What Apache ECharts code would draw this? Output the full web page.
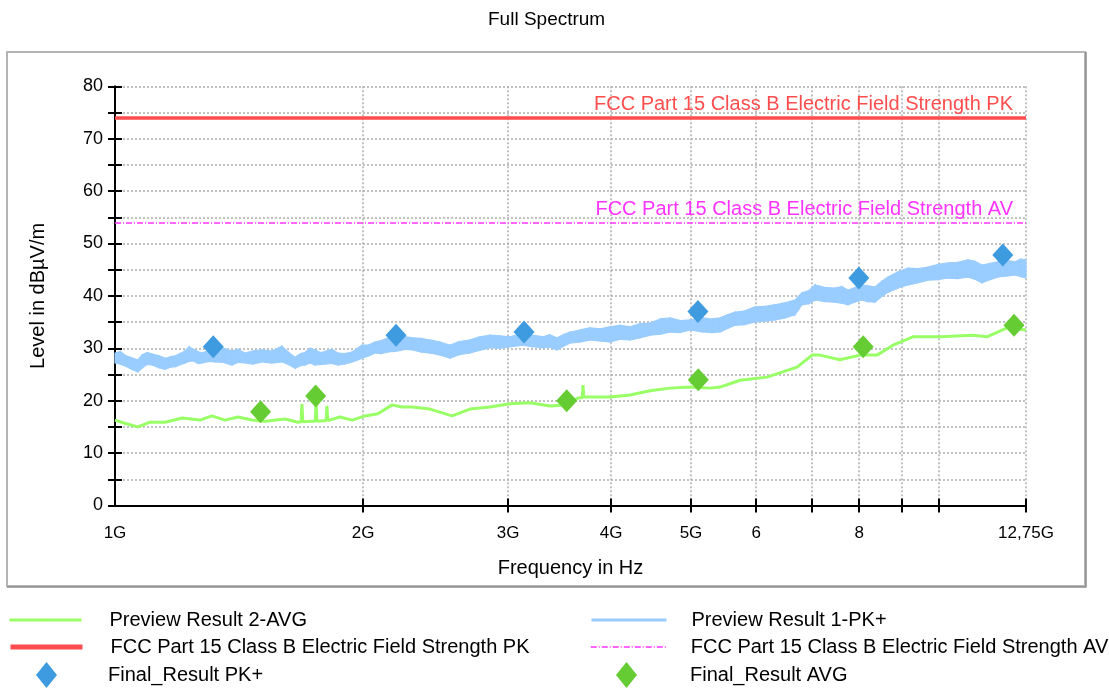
<!DOCTYPE html>
<html>
<head>
<meta charset="utf-8">
<script src="https://cdn.jsdelivr.net/npm/echarts@6/dist/echarts.min.js"></script>
<style>html,body{margin:0;padding:0;background:#fff;}#c{width:1109px;height:689px;}</style>
</head>
<body>
<div id="c"></div>
<script>
// ---- data (frequency in GHz, level in dBµV/m) ----
// Preview Result 1-PK+ is a dense noisy trace: stored as its upper and lower envelope
var pkFreq = [1.000,1.015,1.030,1.048,1.066,1.078,1.094,1.110,1.130,1.150,1.168,1.185,1.200,1.216,1.230,1.245,1.260,1.275,1.300,1.322,1.355,1.387,1.410,1.438,1.470,1.508,1.550,1.594,1.625,1.654,1.680,1.700,1.725,1.748,1.775,1.800,1.832,1.865,1.900,1.940,1.965,1.994,2.030,2.068,2.105,2.145,2.180,2.220,2.255,2.293,2.350,2.411,2.480,2.550,2.620,2.697,2.770,2.851,2.930,3.015,3.127,3.210,3.307,3.370,3.439,3.500,3.566,3.670,3.771,3.880,3.988,4.100,4.217,4.340,4.460,4.590,4.716,4.850,4.986,5.171,5.300,5.423,5.540,5.653,5.800,5.978,6.150,6.323,6.500,6.686,6.760,6.818,6.950,7.071,7.270,7.478,7.620,7.755,7.900,8.063,8.200,8.361,8.520,8.670,8.920,9.169,9.430,9.694,9.970,10.25,10.55,10.84,11.05,11.27,11.53,11.79,12.08,12.36,12.55,12.75];
var pkUpper = [29.1,29.4,28.6,28.2,27.8,28.7,29.2,28.9,28.6,28.1,28.4,28.6,29.0,29.5,30.3,29.8,29.4,29.1,29.6,29.7,30.0,29.5,29.8,29.1,29.5,29.7,29.5,30.4,29.2,28.3,29.0,29.2,30.0,29.7,29.2,29.4,29.8,29.1,29.0,29.3,29.9,30.6,30.6,31.2,31.5,32.0,31.6,31.8,32.2,32.0,31.9,31.6,31.2,30.6,31.3,31.6,32.2,32.5,32.4,32.2,32.9,32.5,32.2,32.6,32.0,32.6,33.1,33.5,33.9,33.7,34.1,34.4,34.1,34.7,34.8,35.6,35.8,35.3,35.4,35.8,35.6,35.8,36.4,36.9,37.1,37.9,38.0,38.3,38.7,39.2,40.0,40.6,41.0,42.1,41.6,41.5,41.8,41.1,41.6,42.1,41.9,41.7,42.8,43.6,44.6,45.3,45.2,45.5,46.0,46.3,46.4,46.9,46.6,45.9,46.2,46.5,46.8,46.5,47.0,46.9];
var pkLower = [27.2,27.0,26.6,26.0,25.5,26.2,26.9,26.8,26.3,26.0,26.4,26.5,26.9,27.2,27.5,27.6,27.1,27.2,27.5,27.4,27.3,26.8,27.3,27.2,27.0,27.4,27.2,27.4,26.9,26.2,26.7,26.8,27.2,26.8,26.9,27.0,27.1,26.8,27.0,27.4,27.7,28.1,28.5,29.1,29.0,29.3,29.4,29.6,29.8,29.7,29.3,29.1,28.7,28.1,28.8,29.1,29.6,30.1,30.0,30.3,30.6,30.3,30.1,30.2,29.7,30.4,31.0,31.2,31.6,31.4,31.2,31.7,31.6,32.0,32.5,32.7,33.1,33.0,33.5,33.1,33.0,33.1,33.8,34.4,34.5,35.0,35.2,35.4,35.8,36.4,37.5,38.3,38.5,39.2,38.9,38.8,38.6,38.3,38.8,39.2,38.9,38.8,39.9,40.7,41.5,42.1,42.5,43.0,43.1,43.4,43.3,43.6,43.2,42.5,43.1,43.6,43.8,44.0,43.7,43.4];

var avgFreq = [1.000,1.028,1.066,1.103,1.150,1.206,1.268,1.311,1.360,1.410,1.466,1.521,1.608,1.668,1.682,1.686,1.690,1.734,1.750,1.754,1.758,1.804,1.808,1.812,1.875,1.940,2.011,2.085,2.169,2.230,2.293,2.411,2.564,2.697,2.851,3.015,3.188,3.372,3.516,3.646,3.690,3.698,3.706,3.771,3.988,4.217,4.460,4.716,4.986,5.272,5.423,5.733,6.183,6.725,7.013,7.171,7.580,8.017,8.408,8.793,9.296,10.03,10.99,11.43,12.09,12.75];
var avgLevel = [16.3,15.7,15.0,15.9,15.9,16.7,16.3,17.1,16.3,16.9,16.3,16.1,16.5,15.9,16.0,19.4,16.0,16.1,16.1,20.0,16.1,16.2,19.0,16.2,16.9,16.3,17.1,17.5,19.2,18.8,18.8,18.4,17.1,18.4,18.8,19.4,19.6,19.0,19.2,20.5,20.6,23.0,20.7,20.7,20.7,21.1,21.9,22.4,22.6,22.4,22.6,23.9,24.5,26.4,28.7,28.7,27.8,28.7,28.7,30.6,32.2,32.2,32.5,32.2,33.9,33.5];

var finalPkFreq = [1.316,2.193,3.136,5.098,7.992,11.95];
var finalPkLevel = [30.3,32.5,33.1,37.0,43.4,47.8];
var finalAvgFreq = [1.502,1.752,3.533,5.103,8.09,12.33];
var finalAvgLevel = [17.9,20.9,20.0,24.0,30.3,34.4];

var limitPK = 74;
var limitAV = 54;

var xTickValues = [2,3,4,5,6,7,8,9,10,12.75];
var xLabelValues = [1,2,3,4,5,6,8,12.75];
var xLabelTexts = ['1G','2G','3G','4G','5G','6','8','12,75G'];

var NAME_AVG = 'Preview Result 2-AVG';
var NAME_PK = 'Preview Result 1-PK+';
var NAME_LPK = 'FCC Part 15 Class B Electric Field Strength PK';
var NAME_LAV = 'FCC Part 15 Class B Electric Field Strength AV';
var NAME_FPK = 'Final_Result PK+';
var NAME_FAVG = 'Final_Result AVG';

// ---- build ----
function pairs(xs, ys) { return xs.map(function (x, i) { return [x, ys[i]]; }); }
var FONT = 'Liberation Sans';
var cBlue = '#99CCFF', cGreen = '#99FF66', cRed = '#FF4D4D', cMag = '#FF33FF';
var cDiaBlue = '#3F9BDF', cDiaGreen = '#66CC33';
var gridStyle = { color: '#ADADAD', width: 1.5, type: [2, 2] };

function legendAt(name, left, top, w, h, pad) {
  return {
    data: [name], left: left, top: top, itemWidth: w, itemHeight: h,
    selectedMode: false, padding: 0, itemGap: 0,
    lineStyle: { width: 'inherit' },
    textStyle: { fontFamily: FONT, fontSize: 20, color: '#000', padding: [0, 0, 0, pad] }
  };
}

var bandData = pkFreq.map(function (f, i) { return [f, pkLower[i], pkUpper[i]]; });

var chart = echarts.init(document.getElementById('c'), null, { renderer: 'canvas' });
var option = {
  animation: false,
  backgroundColor: '#fff',
  title: {
    text: 'Full Spectrum', left: 483, top: 5,
    textStyle: { fontFamily: FONT, fontSize: 19, fontWeight: 'normal', color: '#000' }
  },
  graphic: [
    { type: 'rect', shape: { x: 7, y: 52, width: 1078, height: 534 },
      style: { fill: 'none', stroke: '#B4B4B4', lineWidth: 2 }, z: -1, silent: true },
    { type: 'polyline', shape: { points: [[1086, 52], [1086, 587], [7, 587]] },
      style: { fill: 'none', stroke: '#8C8C8C', lineWidth: 1.5 }, z: -1, silent: true }
  ],
  grid: { left: 115, right: 83, top: 86.3, bottom: 183.5, containLabel: false },
  legend: [
    legendAt(NAME_AVG, 8, 610, 72, 2, 23),
    legendAt(NAME_LPK, 8, 637, 72, 5, 23),
    legendAt(NAME_FPK, 36, 662, 21, 26, 46),
    legendAt(NAME_PK, 590, 610, 75, 3, 20),
    legendAt(NAME_LAV, 590, 637, 75, 1, 20),
    legendAt(NAME_FAVG, 616, 662, 21, 26, 48)
  ],
  xAxis: [{
    type: 'log', logBase: 10, min: 1, max: 12.75,
    name: 'Frequency in Hz', nameLocation: 'middle', nameGap: 53,
    nameTextStyle: { fontFamily: FONT, fontSize: 20, color: '#000' },
    axisLine: { show: true, lineStyle: { color: '#000', width: 2 } },
    axisTick: { show: true, length: 7, customValues: xTickValues, lineStyle: { color: '#000', width: 2 } },
    axisLabel: {
      show: true, margin: 19, customValues: xLabelValues,
      fontFamily: FONT, fontSize: 17, color: '#000',
      formatter: function (v) {
        for (var i = 0; i < xLabelValues.length; i++) { if (Math.abs(xLabelValues[i] - v) < 1e-6) return xLabelTexts[i]; }
        return '';
      }
    },
    splitLine: { show: true, lineStyle: gridStyle },
    minorTick: { show: false }
  }, {
    type: 'log', logBase: 10, min: 1, max: 12.75, position: 'bottom',
    axisLine: { show: false },
    axisTick: { show: true, inside: true, length: 7, customValues: xTickValues, lineStyle: { color: '#000', width: 2 } },
    axisLabel: { show: false }, splitLine: { show: false }
  }],
  yAxis: [{
    type: 'value', min: 0, max: 80, interval: 10,
    name: 'Level in dBµV/m', nameLocation: 'middle', nameGap: 67, nameRotate: 90,
    nameTextStyle: { fontFamily: FONT, fontSize: 20, color: '#000' },
    axisLine: { show: true, lineStyle: { color: '#000', width: 2 } },
    axisTick: { show: true, length: 7, lineStyle: { color: '#000', width: 2 } },
    minorTick: { show: true, splitNumber: 2, length: 7, lineStyle: { color: '#000', width: 2 } },
    axisLabel: { margin: 12, fontFamily: FONT, fontSize: 18, color: '#000' },
    splitLine: { show: true, lineStyle: gridStyle },
    minorSplitLine: { show: true, lineStyle: gridStyle }
  }, {
    type: 'value', min: 0, max: 80, interval: 10, position: 'left',
    axisLine: { show: false },
    axisTick: { show: true, inside: true, length: 7, lineStyle: { color: '#000', width: 2 } },
    minorTick: { show: true, splitNumber: 2, length: 7, lineStyle: { color: '#000', width: 2 } },
    axisLabel: { show: false }, splitLine: { show: false }
  }],
  series: [
    {
      name: 'pk-band', type: 'custom', z: 2, silent: true,
      data: bandData,
      encode: { x: 0, y: [1, 2] },
      renderItem: function (params, api) {
        var i = params.dataIndex;
        var next = bandData[i + 1];
        if (!next) return null;
        var a = api.coord([api.value(0), api.value(2)]);
        var b = api.coord([next[0], next[2]]);
        var c = api.coord([next[0], next[1]]);
        var d = api.coord([api.value(0), api.value(1)]);
        return { type: 'polygon', shape: { points: [a, b, c, d] },
          style: { fill: cBlue, stroke: cBlue, lineWidth: 1.2 } };
      }
    },
    {
      name: NAME_PK, type: 'line', symbol: 'none', z: 2, data: [],
      lineStyle: { color: cBlue, width: 3 }, itemStyle: { color: cBlue }
    },
    {
      name: NAME_AVG, type: 'line', symbol: 'none', z: 3,
      data: pairs(avgFreq, avgLevel),
      lineStyle: { color: cGreen, width: 3 }, itemStyle: { color: cGreen }
    },
    {
      name: NAME_LPK, type: 'line', symbol: 'none', data: [], z: 4,
      lineStyle: { color: cRed, width: 5 }, itemStyle: { color: cRed },
      markLine: {
        silent: true, symbol: ['none', 'none'],
        lineStyle: { color: cRed, width: 3.5, type: 'solid' },
        label: { show: true, position: 'insideEndTop', formatter: NAME_LPK, color: cRed, fontFamily: FONT, fontSize: 20, distance: [13, 3] },
        data: [{ yAxis: limitPK }]
      }
    },
    {
      name: NAME_LAV, type: 'line', symbol: 'none', data: [], z: 4,
      lineStyle: { color: cMag, width: 1.5, type: [6, 2, 1, 2] }, itemStyle: { color: cMag },
      markLine: {
        silent: true, symbol: ['none', 'none'],
        lineStyle: { color: cMag, width: 1.5, type: [6, 2, 1, 2] },
        label: { show: true, position: 'insideEndTop', formatter: NAME_LAV, color: cMag, fontFamily: FONT, fontSize: 20, distance: [13, 3] },
        data: [{ yAxis: limitAV }]
      }
    },
    {
      name: NAME_FPK, type: 'scatter', symbol: 'diamond', symbolSize: [21, 23], z: 5,
      data: pairs(finalPkFreq, finalPkLevel), itemStyle: { color: cDiaBlue, opacity: 1 }
    },
    {
      name: NAME_FAVG, type: 'scatter', symbol: 'diamond', symbolSize: [21, 23], z: 5,
      data: pairs(finalAvgFreq, finalAvgLevel), itemStyle: { color: cDiaGreen, opacity: 1 }
    }
  ]
};
chart.setOption(option);
</script>
</body>
</html>
